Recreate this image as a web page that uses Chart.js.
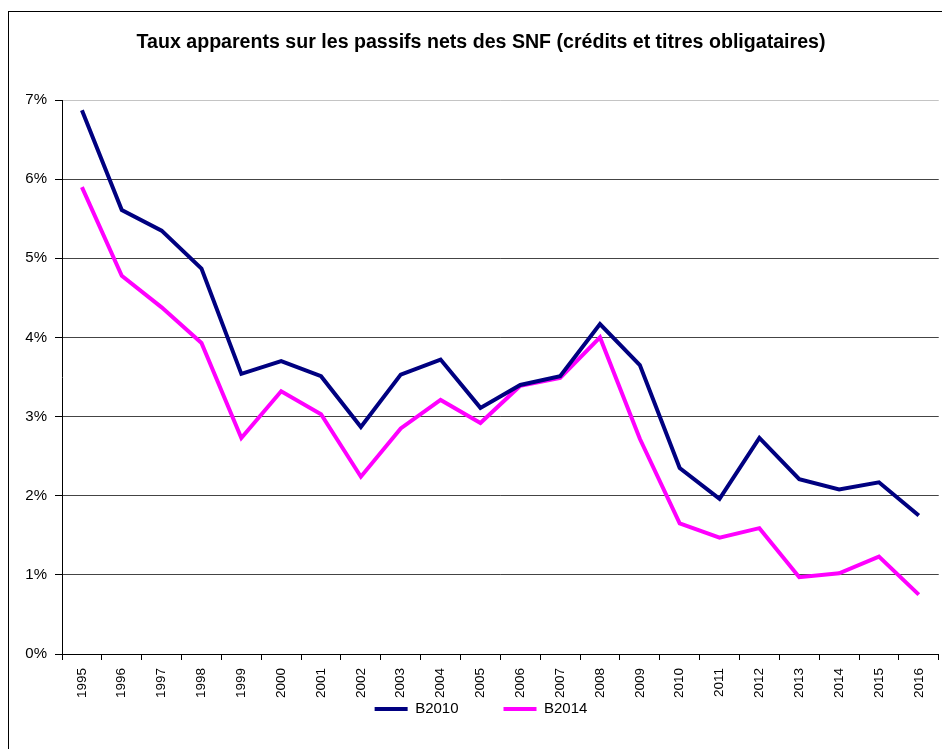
<!DOCTYPE html>
<html>
<head>
<meta charset="utf-8">
<script src="https://cdn.jsdelivr.net/npm/chart.js@4/dist/chart.umd.min.js"></script>
<style>
  html, body { margin: 0; padding: 0; background: #fff; overflow: hidden; width: 942px; height: 749px; }
  #frame { position: absolute; left: 8px; top: 11px; width: 1000px; height: 800px; border: 1px solid #000; box-sizing: border-box; }
  #c { position: absolute; left: 0; top: 0; }
</style>
</head>
<body>
<div id="frame"></div>
<canvas id="c" width="943" height="749"></canvas>
<script>
const years = ['1995','1996','1997','1998','1999','2000','2001','2002','2003','2004','2005','2006','2007','2008','2009','2010','2011','2012','2013','2014','2015','2016'];
const b2010 = [6.87, 5.61, 5.35, 4.87, 3.54, 3.70, 3.51, 2.87, 3.53, 3.72, 3.11, 3.40, 3.51, 4.17, 3.65, 2.35, 1.96, 2.73, 2.21, 2.08, 2.17, 1.75];
const b2014 = [5.90, 4.78, 4.38, 3.93, 2.73, 3.32, 3.03, 2.24, 2.85, 3.21, 2.92, 3.39, 3.49, 4.00, 2.72, 1.65, 1.47, 1.59, 0.97, 1.02, 1.23, 0.75];
const yTicks = [0, 1, 2, 3, 4, 5, 6, 7];
const seriesNames = ['B2010', 'B2014'];
const titleText = 'Taux apparents sur les passifs nets des SNF (crédits et titres obligataires)';

const FONT = "'Liberation Sans', Arial, sans-serif";

// place the legend row (its vertical padding is only used for horizontal spacing)
const legendPlacer = {
  id: 'legendPlacer',
  beforeDraw(chart) {
    const lg = chart.legend;
    if (lg) {
      lg.top = 656.5;
      lg.bottom = 748;
      lg.height = lg.bottom - lg.top;
    }
  }
};

new Chart(document.getElementById('c'), {
  type: 'line',
  data: {
    labels: years,
    datasets: [
      { label: seriesNames[0], data: b2010, borderColor: '#000080', backgroundColor: '#000080', borderWidth: 4, pointRadius: 0, tension: 0 },
      { label: seriesNames[1], data: b2014, borderColor: '#FF00FF', backgroundColor: '#FF00FF', borderWidth: 4, pointRadius: 0, tension: 0 }
    ]
  },
  plugins: [legendPlacer],
  options: {
    responsive: false,
    animation: false,
    layout: { padding: { left: 19, right: 0, top: 31, bottom: 30 } },
    plugins: {
      title: {
        display: true,
        text: titleText,
        color: '#000',
        font: { family: FONT, size: 19.6, weight: 'bold' },
        padding: { top: 0, bottom: 45.5 }
      },
      legend: {
        position: 'bottom',
        maxHeight: 20,
        labels: {
          color: '#000',
          font: { family: FONT, size: 15 },
          boxWidth: 33,
          boxHeight: 4,
          padding: 45,
          generateLabels: (chart) => Chart.defaults.plugins.legend.labels.generateLabels(chart).map(l => Object.assign(l, { lineWidth: 0 }))
        }
      },
      tooltip: { enabled: false }
    },
    scales: {
      x: {
        offset: true,
        afterFit: (s) => { s.height = 45; },
        grid: { offset: true, drawOnChartArea: false, drawTicks: true, tickLength: 6, tickColor: '#000', color: '#000' },
        border: { color: '#000', width: 1 },
        ticks: { color: '#000', font: { family: FONT, size: 13.5 }, maxRotation: 90, minRotation: 90, padding: 8, autoSkip: false }
      },
      y: {
        min: 0,
        max: 7,
        afterFit: (s) => { s.width = 43; },
        afterBuildTicks: (s) => { s.ticks = yTicks.map(v => ({ value: v })); },
        grid: {
          color: (ctx) => (ctx.tick && ctx.tick.value === 7) ? '#c4c4c4' : '#444444',
          borderDash: [1, 1],
          tickLength: 7,
          tickColor: '#000',
          tickBorderDash: []
        },
        border: { color: '#000', width: 1 },
        ticks: { color: '#000', font: { family: FONT, size: 15 }, padding: 8, callback: (v) => v + '%' }
      }
    }
  }
});
</script>
</body>
</html>
